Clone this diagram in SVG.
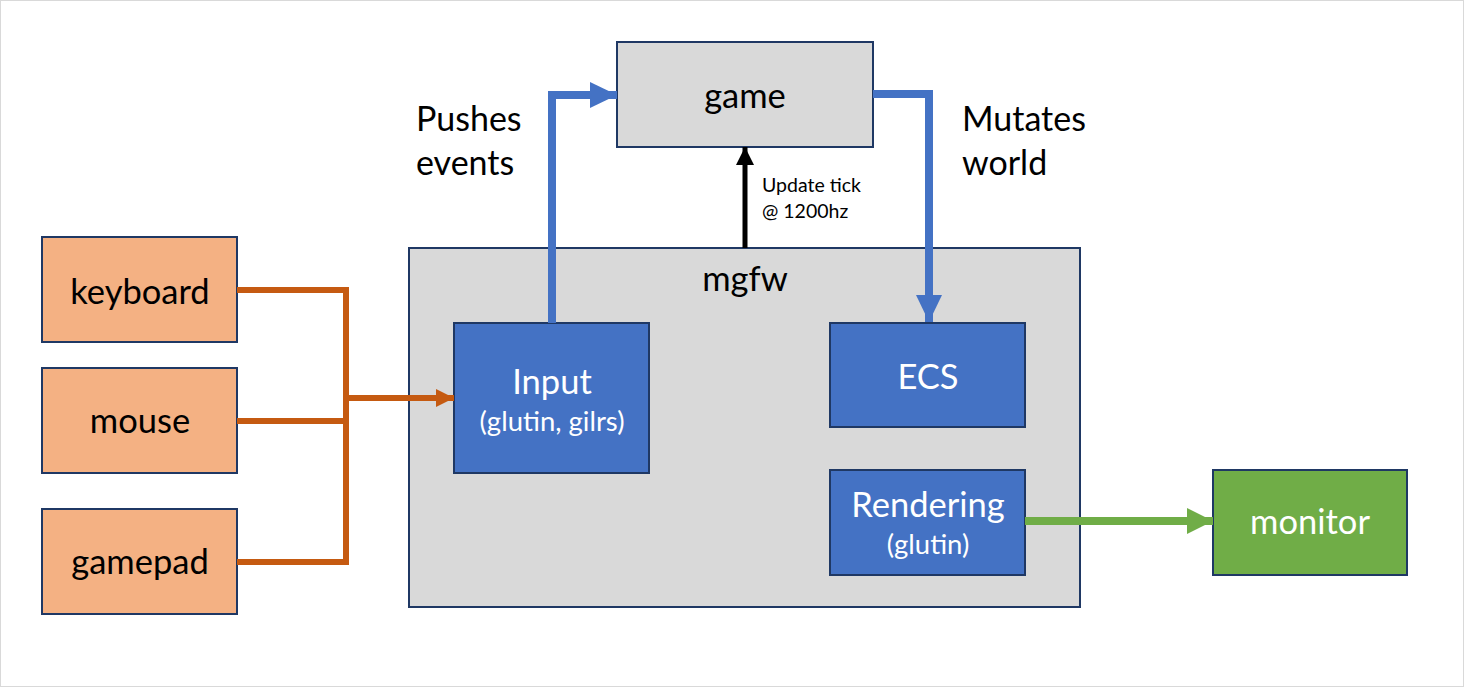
<svg xmlns="http://www.w3.org/2000/svg" width="1464" height="687" viewBox="0 0 1464 687">
<style>
.box{stroke:#1f3864;stroke-width:2}
.gray{fill:#d9d9d9}
.blue{fill:#4472c4}
.orange{fill:#f4b183}
.green{fill:#70ad47}
text{font-family:Lato,"Open Sans",sans-serif;text-anchor:middle}
.big{font-size:34.5px}
.sub{font-size:27.5px}
.dark{fill:#000}
.light{fill:#fff}
.lbl{font-size:34px;text-anchor:start;fill:#000}
.small{font-size:19.5px;text-anchor:start;fill:#000}
</style>
<defs>
<marker id="ab" markerUnits="userSpaceOnUse" markerWidth="30" markerHeight="30" refX="27" refY="13" orient="auto"><path d="M0,0 L27,13 L0,26 Z" fill="#4472c4"/></marker>
<marker id="ao" markerUnits="userSpaceOnUse" markerWidth="20" markerHeight="20" refX="18" refY="9" orient="auto"><path d="M0,0 L18,9 L0,18 Z" fill="#c55a11"/></marker>
<marker id="ak" markerUnits="userSpaceOnUse" markerWidth="20" markerHeight="20" refX="18" refY="9" orient="auto"><path d="M0,0 L18,9 L0,18 Z" fill="#000"/></marker>
<marker id="ag" markerUnits="userSpaceOnUse" markerWidth="30" markerHeight="30" refX="26" refY="13" orient="auto"><path d="M0,0 L26,13 L0,26 Z" fill="#70ad47"/></marker>
</defs>
<rect x="0.5" y="0.5" width="1463" height="686" fill="#fff" stroke="#d9d9d9" stroke-width="1"/>
<g id="mgfw"><rect class="box gray" x="409" y="248" width="671" height="359"/><text class="big dark" x="745" y="291">mgfw</text></g>
<g id="game"><rect class="box gray" x="617" y="42" width="256" height="105"/><text class="big dark" x="745" y="108">game</text></g>
<g id="input"><rect class="box blue" x="454" y="323" width="195" height="150"/><text class="big light" x="552" y="394">Input</text><text class="sub light" x="552" y="431">(glutin, gilrs)</text></g>
<g id="ecs"><rect class="box blue" x="830" y="323" width="195" height="104"/><text class="big light" x="928" y="389">ECS</text></g>
<g id="rendering"><rect class="box blue" x="830" y="470" width="195" height="105"/><text class="big light" x="928" y="517">Rendering</text><text class="sub light" x="928" y="554">(glutin)</text></g>
<g id="monitor"><rect class="box green" x="1213" y="470" width="194" height="105"/><text class="big light" x="1310" y="534">monitor</text></g>
<g id="keyboard"><rect class="box orange" x="42" y="237" width="195" height="105"/><text class="big dark" x="140" y="304">keyboard</text></g>
<g id="mouse"><rect class="box orange" x="42" y="368" width="195" height="105"/><text class="big dark" x="140" y="433">mouse</text></g>
<g id="gamepad"><rect class="box orange" x="42" y="509" width="195" height="105"/><text class="big dark" x="140" y="574">gamepad</text></g>
<g id="connectors" fill="none">
<polyline points="237,290 346,290 346,562 237,562" stroke="#c55a11" stroke-width="6"/>
<line x1="237" y1="421" x2="346" y2="421" stroke="#c55a11" stroke-width="6"/>
<line x1="346" y1="398" x2="454" y2="398" stroke="#c55a11" stroke-width="6" marker-end="url(#ao)"/>
<polyline points="552,323 552,95 617,95" stroke="#4472c4" stroke-width="8" marker-end="url(#ab)"/>
<polyline points="873,94 929,94 929,322" stroke="#4472c4" stroke-width="8" marker-end="url(#ab)"/>
<line x1="745" y1="248" x2="745" y2="147" stroke="#000" stroke-width="5" marker-end="url(#ak)"/>
<line x1="1025" y1="521" x2="1213" y2="521" stroke="#70ad47" stroke-width="8" marker-end="url(#ag)"/>
</g>
<g id="labels">
<text class="lbl" x="416" y="131">Pushes</text>
<text class="lbl" x="416" y="175">events</text>
<text class="lbl" x="962" y="131">Mutates</text>
<text class="lbl" x="962" y="175">world</text>
<text class="small" x="762" y="192">Update tick</text>
<text class="small" x="762" y="218">@ 1200hz</text>
</g>
</svg>
